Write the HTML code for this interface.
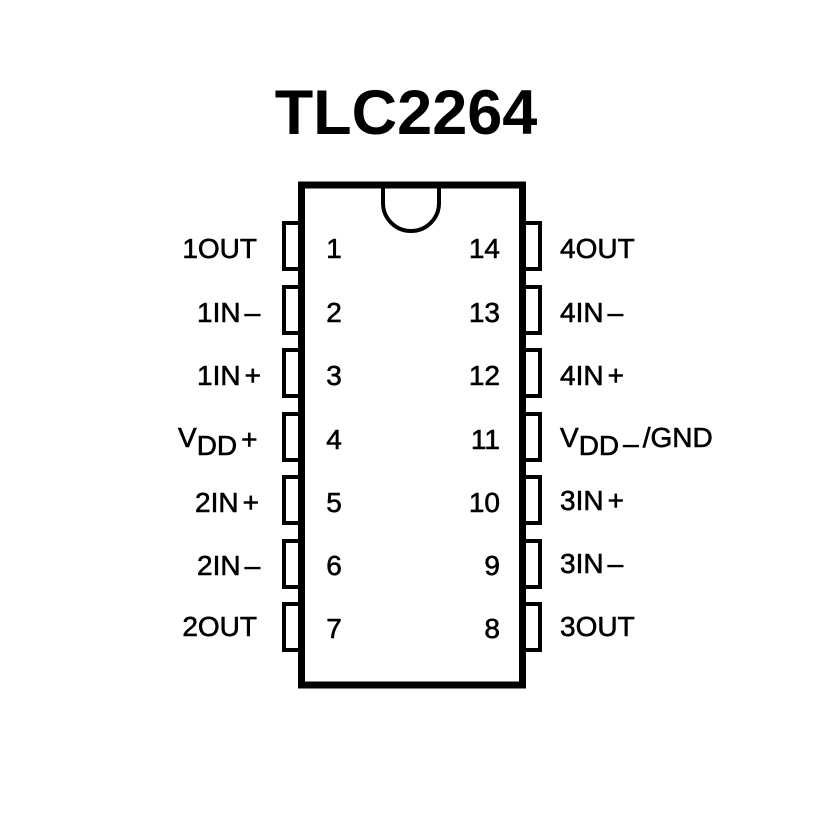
<!DOCTYPE html>
<html><head><style>body{margin:0;background:#fff}</style></head><body>
<svg width="827" height="827" xmlns="http://www.w3.org/2000/svg" font-family="Liberation Sans, Arial, sans-serif">
<rect width="827" height="827" fill="#fff"/>
<text x="406" y="134" text-anchor="middle" font-size="63" font-weight="bold" fill="#000">TLC2264</text>
<rect x="301.5" y="185" width="221" height="500" fill="none" stroke="#000" stroke-width="7"/>
<path d="M383 188 V203 A28 28 0 0 0 439 203 V188" fill="none" stroke="#000" stroke-width="4"/>
<g fill="none" stroke="#000" stroke-width="4">
<rect x="284" y="223" width="16" height="46"/><rect x="284" y="287" width="16" height="46"/><rect x="284" y="350" width="16" height="46"/><rect x="284" y="414" width="16" height="46"/><rect x="284" y="477" width="16" height="46"/><rect x="284" y="541" width="16" height="46"/><rect x="284" y="604" width="16" height="46"/>
<rect x="524" y="223" width="16" height="46"/><rect x="524" y="287" width="16" height="46"/><rect x="524" y="350" width="16" height="46"/><rect x="524" y="414" width="16" height="46"/><rect x="524" y="477" width="16" height="46"/><rect x="524" y="541" width="16" height="46"/><rect x="524" y="604" width="16" height="46"/>
</g>
<g font-size="28" fill="#000" stroke="#000" stroke-width="0.6">
<g text-anchor="middle">
<text x="334" y="258">1</text><text x="334" y="322">2</text><text x="334" y="385">3</text><text x="334" y="449">4</text><text x="334" y="512">5</text><text x="334" y="575">6</text><text x="334" y="638">7</text>
</g>
<g text-anchor="end">
<text x="500" y="258">14</text><text x="500" y="322">13</text><text x="500" y="385">12</text><text x="500" y="449">11</text><text x="500" y="512">10</text><text x="500" y="575">9</text><text x="500" y="638">8</text>
<text x="257" y="258">1OUT</text><text x="257" y="636">2OUT</text>
</g>
<text x="197" y="322">1IN<tspan dx="4">–</tspan></text>
<text x="197" y="385">1IN<tspan dx="4">+</tspan></text>
<text x="195" y="512">2IN<tspan dx="4">+</tspan></text>
<text x="197" y="575">2IN<tspan dx="4">–</tspan></text>
<text x="178" y="447">V<tspan dy="8">DD</tspan><tspan dy="-6" dx="4">+</tspan></text>
<text x="560" y="258">4OUT</text><text x="560" y="322">4IN<tspan dx="4">–</tspan></text><text x="560" y="385">4IN<tspan dx="4">+</tspan></text>
<text x="560" y="447">V<tspan dy="8">DD</tspan><tspan dy="-2" dx="4">–</tspan><tspan dy="-6" dx="4">/GND</tspan></text>
<text x="560" y="510">3IN<tspan dx="4">+</tspan></text><text x="560" y="573">3IN<tspan dx="4">–</tspan></text><text x="560" y="636">3OUT</text>
</g>
</svg>
</body></html>
